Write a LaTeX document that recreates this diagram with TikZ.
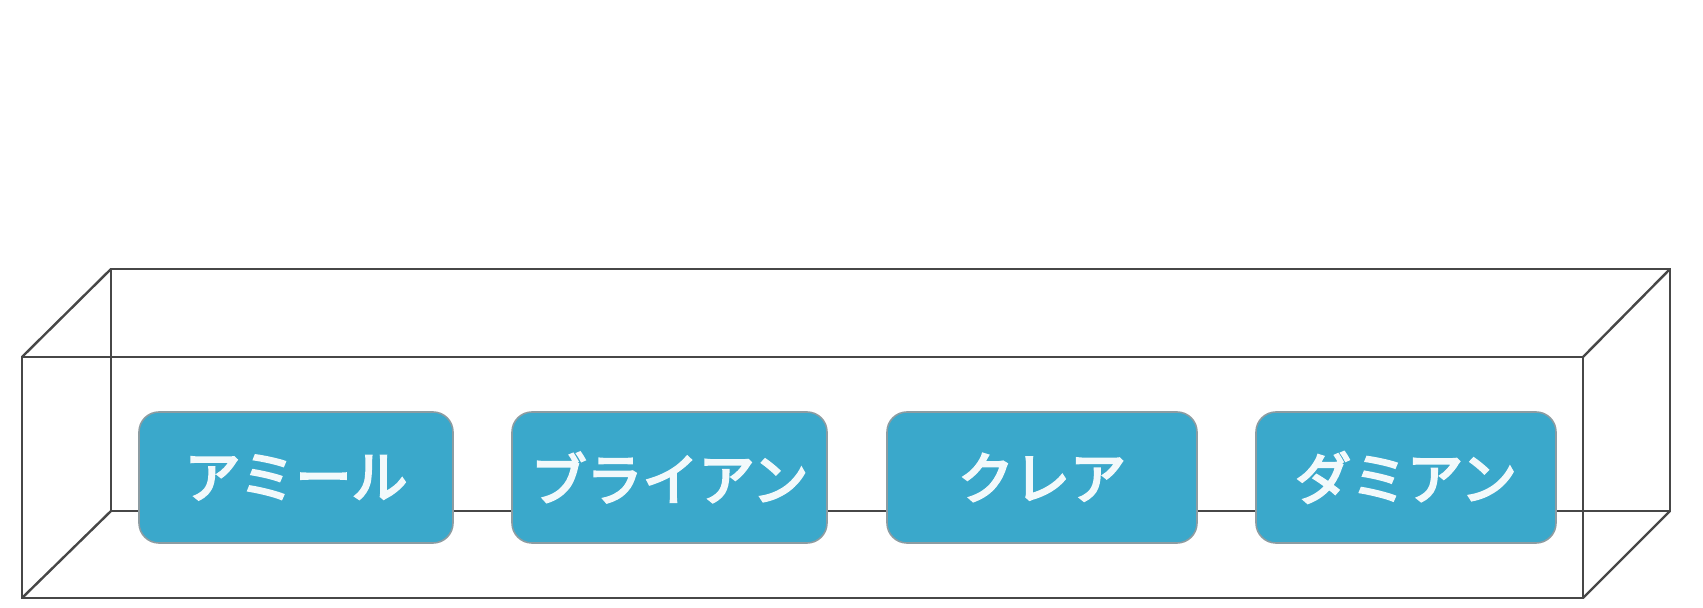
\documentclass[tikz,border=0pt]{standalone}
\usepackage{fontspec}
\newfontfamily\jpfont[FakeBold=4]{Noto Sans CJK JP}
\definecolor{framegray}{HTML}{474747}
\definecolor{boxfill}{HTML}{3AA8CB}
\definecolor{boxedge}{HTML}{8C9CA2}
\definecolor{boxtext}{HTML}{F2F9FB}
\tikzset{
    cubeline/.style={line width=1.2pt,draw=framegray},
    namebox/.style={draw=boxedge,line width=0.8pt,fill=boxfill,rounded corners=10pt,
        minimum height=65.5pt,inner sep=0pt,text=boxtext,
        font=\jpfont\fontsize{28}{28}\selectfont}
}
\begin{document}
\begin{tikzpicture}
    \begin{scope}[x=0.5pt,y=-0.5pt]
        \useasboundingbox (0,0) rectangle (1703,608);

        % back rectangle
        \coordinate (btl) at (111,269);
        \coordinate (btr) at (1670,269);
        \coordinate (bbr) at (1670,511);
        \coordinate (bbl) at (111,511);

        % front rectangle
        \coordinate (ftl) at (22,357);
        \coordinate (ftr) at (1583,357);
        \coordinate (fbr) at (1583,598);
        \coordinate (fbl) at (22,598);

        \begin{scope}[every path/.style={cubeline}]
            \draw (btl) -- (btr) -- (bbr) -- (bbl) -- cycle;
            \draw (ftl) -- (ftr) -- (fbr) -- (fbl) -- cycle;

            % depth edges
            \draw (ftl) -- (btl);
            \draw (ftr) -- (btr);
            \draw (fbr) -- (bbr);
            \draw (fbl) -- (bbl);
        \end{scope}

        % name boxes
        \node[namebox,minimum width=157pt] (amir) at (296,477.5) {アミール};
        \node[namebox,minimum width=157.5pt] (brian) at (669.5,477.5) {ブライアン};
        \node[namebox,minimum width=155pt] (claire) at (1042,477.5) {クレア};
        \node[namebox,minimum width=150pt] (damian) at (1406,477.5) {ダミアン};
    \end{scope}
\end{tikzpicture}
\end{document}
